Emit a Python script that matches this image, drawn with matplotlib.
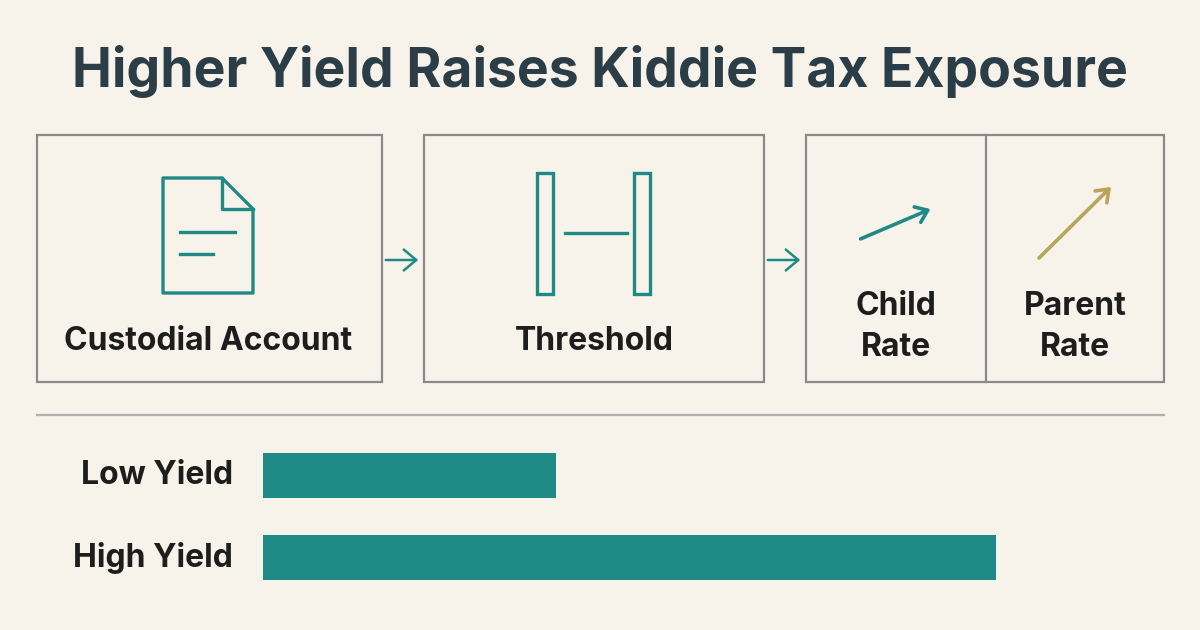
import matplotlib
matplotlib.use("Agg")
import matplotlib.pyplot as plt
from matplotlib.patches import Rectangle, Polygon, FancyArrowPatch

categories = ["Low Yield", "High Yield"]
values = [4.0, 10.0]
title = "Higher Yield Raises Kiddie Tax Exposure"
stage_labels = ["Custodial Account", "Threshold", "Child\nRate", "Parent\nRate"]

BG = "#f7f3ea"
DARK = "#2b3d47"
TEAL = "#1f8a85"
GOLD = "#b9a45a"
GREY = "#8a8a8a"
FONT = ["Inter", "DejaVu Sans"]

fig = plt.figure(figsize=(12, 6.3), dpi=100, facecolor=BG)
ax = fig.add_axes([0, 0, 1, 1])
ax.set_xlim(0, 1200); ax.set_ylim(630, 0); ax.axis("off")
ax.set_facecolor(BG)

ax.text(600, 72, title, ha="center", va="center", fontsize=38.5, fontweight="bold",
        color=DARK, family=FONT)

# boxes
for x0, x1 in [(37, 382), (424, 764), (806, 1164)]:
    ax.add_patch(Rectangle((x0, 135), x1 - x0, 247, fill=False, ec=GREY, lw=1.6))
ax.plot([986, 986], [135, 382], color=GREY, lw=1.6)

# connector arrows
for xa, xb in [(383, 421), (765, 803)]:
    ax.add_patch(FancyArrowPatch((xa, 260), (xb, 260), arrowstyle="->,head_length=6,head_width=5",
                                 color=TEAL, lw=1.8, mutation_scale=1.5))

# document icon
ax.add_patch(Polygon([(163, 178), (222, 178), (253, 209), (253, 293), (163, 293)],
                     closed=True, fill=False, ec=TEAL, lw=2.4, joinstyle="round"))
ax.plot([222, 222, 253], [178, 209, 209], color=TEAL, lw=2.4)
ax.plot([180, 235], [232, 232], color=TEAL, lw=2.4)
ax.plot([180, 213], [254, 254], color=TEAL, lw=2.4)

# threshold icon
ax.add_patch(Rectangle((537, 173), 16, 121, fill=False, ec=TEAL, lw=2.4))
ax.add_patch(Rectangle((634, 173), 16, 121, fill=False, ec=TEAL, lw=2.4))
ax.plot([565, 627], [233, 233], color=TEAL, lw=2.4)

# rate arrows
ax.add_patch(FancyArrowPatch((858, 240), (933, 208), arrowstyle="->,head_length=8,head_width=6",
                             color=TEAL, lw=2.6))
ax.add_patch(FancyArrowPatch((1037, 260), (1113, 185), arrowstyle="->,head_length=8,head_width=6",
                             color=GOLD, lw=2.6))

lab_kw = dict(ha="center", va="center", fontsize=23, fontweight="bold", color="#1d1d1d",
              family=FONT, linespacing=1.45)
ax.text(208, 342, stage_labels[0], **lab_kw)
ax.text(594, 342, stage_labels[1], **lab_kw)
ax.text(896, 327, stage_labels[2], **lab_kw)
ax.text(1075, 327, stage_labels[3], **lab_kw)

ax.plot([37, 1164], [415, 415], color="#b0b0b0", lw=1.6)

# bars
bx = fig.add_axes([263 / 1200, 0, (996 - 263) / 1200, 1])
bx.set_xlim(0, max(values)); bx.set_ylim(630, 0); bx.axis("off")
ys = [475.5, 557.5]
bx.barh(ys, values, height=45, color=TEAL, left=0)
for y, c in zip(ys, categories):
    ax.text(233, y, c, ha="right", va="center", fontsize=23, fontweight="bold",
            color="#1d1d1d", family=FONT)

fig.savefig("out.png", dpi=100, facecolor=BG)
